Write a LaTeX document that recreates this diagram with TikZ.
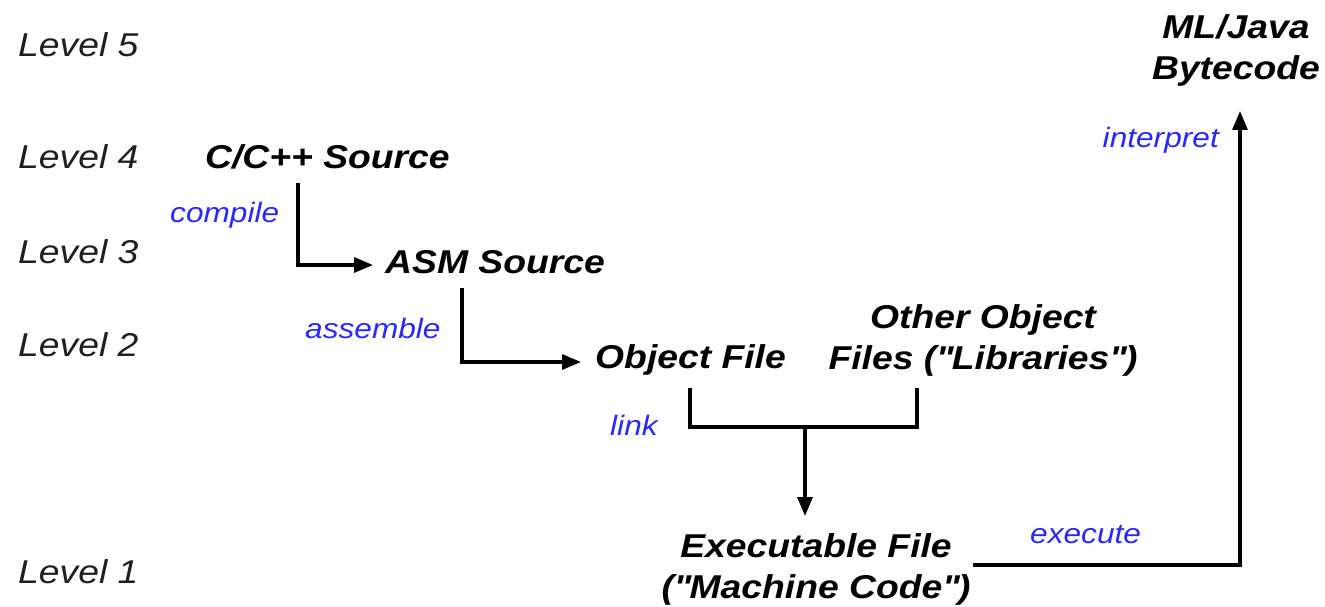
\documentclass[tikz,border=0pt]{standalone}
\usepackage{fontspec}
\setmainfont{Liberation Sans}[FakeStretch=1.13]
\usetikzlibrary{arrows.meta}
\definecolor{lblblue}{RGB}{40,40,255}
\begin{document}
\begin{tikzpicture}[x=1pt,y=-1pt,
  lvl/.style={font=\fontsize{33}{38}\selectfont\itshape, text=black!88, anchor=west, inner sep=0pt},
  item/.style={font=\fontsize{33}{41}\selectfont\bfseries\itshape, inner sep=0pt, align=center},
  lbl/.style={font=\fontsize{28}{34}\selectfont\itshape, text=lblblue, inner sep=0pt},
  conn/.style={line width=3.2pt},
  arr/.style={conn, -{Triangle[length=19pt,width=15pt]}}]
\useasboundingbox (0,0) rectangle (1325,607);
% levels
\node[lvl] (l5) at (18,45) {Level 5};
\node[lvl] (l4) at (18,157) {Level 4};
\node[lvl] (l3) at (18,252) {Level 3};
\node[lvl] (l2) at (18,345) {Level 2};
\node[lvl] (l1) at (18,572) {Level 1};
% items
\node[item, anchor=west] (csrc) at (205,157) {C/C++ Source};
\node[item, anchor=west] (asm) at (385,262) {ASM Source};
\node[item, anchor=west] (obj) at (595,360) {Object File};
\node[item] (oth) at (983,340) {Other Object\\Files (\textquotedbl Libraries\textquotedbl)};
\node[item] (exe) at (816,569) {Executable File\\(\textquotedbl Machine Code\textquotedbl)};
\node[item] (ml) at (1236,50) {ML/Java\\Bytecode};
% labels
\node[lbl, anchor=west] (compile) at (170,215) {compile};
\node[lbl, anchor=west] (assemble) at (305,328) {assemble};
\node[lbl, anchor=west] (link) at (610,425) {link};
\node[lbl, anchor=west] (execute) at (1030,535) {execute};
\node[lbl, anchor=east] (interpret) at (1219,140) {interpret};
% junction coordinates
\coordinate (c1) at (298,183);
\coordinate (c2) at (462,288);
\coordinate (o1) at (690,388);
\coordinate (o2) at (917,388);
\coordinate (jn) at (805,427);
\coordinate (jt) at (805,516);
\coordinate (e1) at (973,565);
\coordinate (et) at (1240,111);
\coordinate (at) at (373,265);
\coordinate (ot) at (581,362);
% connectors
\draw[arr] (c1) |- (at);
\draw[arr] (c2) |- (ot);
\draw[conn] (o1) |- (jn) -| (o2);
\draw[arr] (jn) -- (jt);
\draw[arr] (e1) -| (et);
\end{tikzpicture}
\end{document}
